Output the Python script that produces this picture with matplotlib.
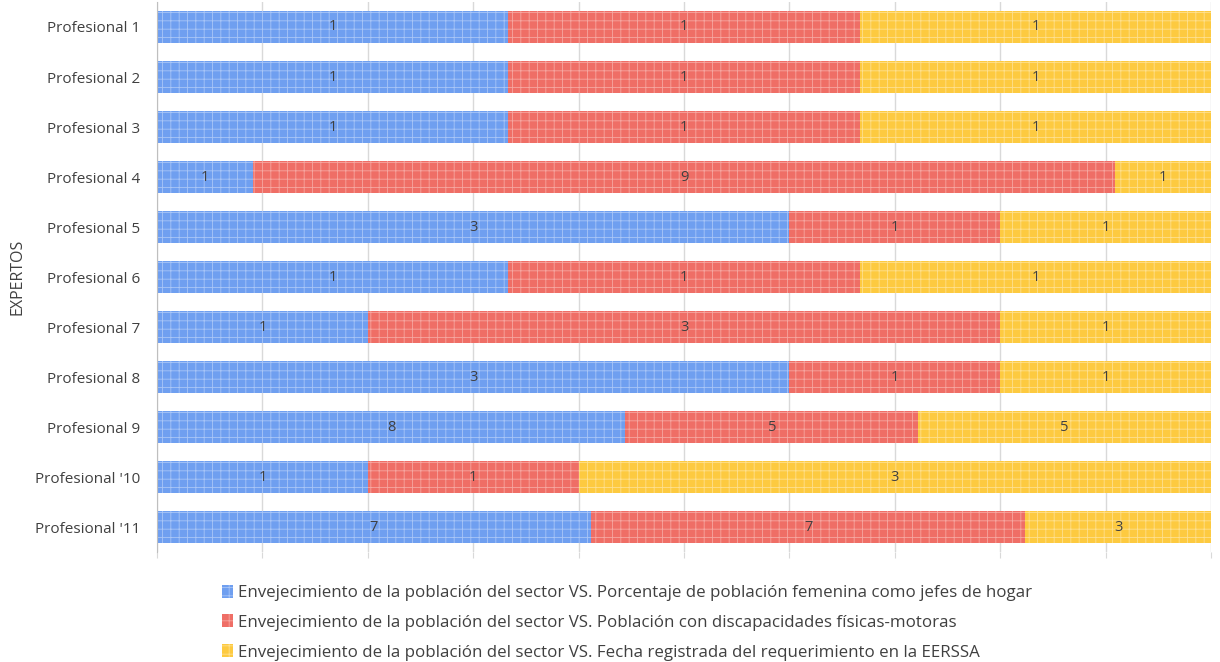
import matplotlib.pyplot as plt
import numpy as np

plt.rcParams['font.family'] = ['Open Sans', 'DejaVu Sans']
plt.rcParams['hatch.linewidth'] = 0.6

# categories and series values (counts per expert)
expertos = ["Profesional 1", "Profesional 2", "Profesional 3", "Profesional 4",
            "Profesional 5", "Profesional 6", "Profesional 7", "Profesional 8",
            "Profesional 9", "Profesional '10", "Profesional '11"]
porcentaje_femenina = [1, 1, 1, 1, 3, 1, 1, 3, 8, 1, 7]
discapacidades = [1, 1, 1, 9, 1, 1, 3, 1, 5, 1, 7]
fecha_eerssa = [1, 1, 1, 1, 1, 1, 1, 1, 5, 3, 3]

series_names = [
    "Envejecimiento de la población del sector VS. Porcentaje de población femenina como jefes de hogar",
    "Envejecimiento de la población del sector VS. Población con discapacidades físicas-motoras",
    "Envejecimiento de la población del sector VS. Fecha registrada del requerimiento en la EERSSA",
]
colors = ["#6f9ff0", "#ef6e66", "#fdca40"]
hatch_colors = ["#a9c6f7", "#f6a7a1", "#fee08f"]

data = np.array([porcentaje_femenina, discapacidades, fecha_eerssa], dtype=float)
totals = data.sum(axis=0)
shares = data / totals

fig = plt.figure(figsize=(12.2, 6.62), dpi=100)
ax = fig.add_axes([0.1287, 0.166, 0.864, 0.831])

y = np.arange(len(expertos))
left = np.zeros(len(expertos))
handles = []
for i in range(3):
    bars = ax.barh(y, shares[i], left=left, height=0.64, color=colors[i],
                   edgecolor=hatch_colors[i], linewidth=0, hatch='++', zorder=2)
    handles.append(bars)
    for j in range(len(expertos)):
        ax.text(left[j] + shares[i][j] / 2, y[j], f"{int(data[i][j])}",
                ha='center', va='center', fontsize=10.5, color='#404040', zorder=3)
    left += shares[i]

ax.set_xlim(0, 1)
ax.set_ylim(len(expertos) - 0.5, -0.5)
ax.set_yticks(y)
ax.set_yticklabels(expertos, fontsize=11, color='#404040')
ax.set_xticks(np.linspace(0, 1, 11))
ax.set_xticklabels([])
ax.tick_params(axis='y', length=0, pad=12)
ax.tick_params(axis='x', length=4, color='#d9d9d9')
ax.grid(axis='x', color='#d9d9d9', linewidth=1, zorder=0)
ax.set_axisbelow(True)
for s in ['top', 'right', 'bottom']:
    ax.spines[s].set_visible(False)
ax.spines['left'].set_color('#bfbfbf')
ax.set_ylabel("EXPERTOS", fontsize=11.5, color='#404040')
ax.yaxis.set_label_coords(-0.125, 0.5)

fig.legend(handles, series_names, loc='upper center', bbox_to_anchor=(0.514, 0.14),
           ncol=1, frameon=False, fontsize=12.2, handlelength=0.6, handleheight=0.8,
           handletextpad=0.3, labelspacing=0.8, labelcolor='#404040')

fig.savefig("out.png", dpi=100)
